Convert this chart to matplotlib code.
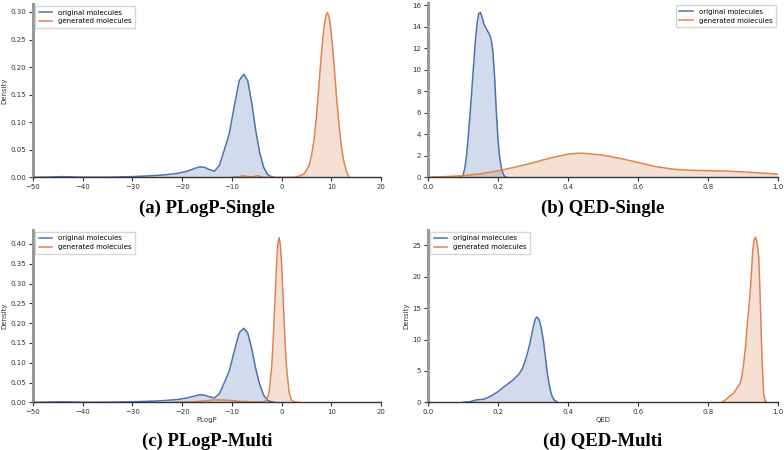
import matplotlib.pyplot as plt

# density curves (x, density)
# (a)/(c) original molecules, PLogP
plogp_orig_x = [-50, -47, -44, -41, -38, -34, -30, -27, -24, -21, -19, -17.5, -16.5, -15.5,
                -14.5, -13.5, -12.5, -11.5, -10.5, -9.5, -8.5, -7.6, -6.8, -6, -5.2, -4.4,
                -3.6, -2.8, -2, -1.5]
plogp_orig_y = [0, 0.0004, 0.0012, 0.0004, 0.0001, 0.0004, 0.0012, 0.0025, 0.004, 0.007, 0.011,
                0.016, 0.019, 0.018, 0.014, 0.011, 0.022, 0.05, 0.08, 0.13, 0.176, 0.187, 0.175,
                0.135, 0.085, 0.045, 0.018, 0.005, 0.001, 0]

# (a) generated, PLogP-Single
plogp_single_x = [-10, -8.7, -7.7, -6.7, -5.8, -4.8, -3.8, 2.5, 3.5, 4.5, 5.5, 6, 6.5, 7, 7.5, 8,
                  8.3, 8.6, 8.9, 9.2, 9.5, 9.8, 10.1, 10.4, 10.7, 11, 11.5, 12, 12.5, 13, 13.5]
plogp_single_y = [0, 0.001, 0.003, 0.001, 0.001, 0.003, 0, 0, 0.002, 0.006, 0.02, 0.038, 0.066,
                  0.109, 0.165, 0.222, 0.252, 0.277, 0.293, 0.299, 0.293, 0.277, 0.252, 0.222,
                  0.188, 0.152, 0.1, 0.058, 0.03, 0.012, 0.002]

# (c) generated, PLogP-Multi
plogp_multi_x = [-22, -18, -15, -13.8, -12, -10.5, -9, -8, -7, -6, -5, -4, -3.5, -3, -2.5, -2,
                 -1.75, -1.5, -1.25, -1, -0.75, -0.5, -0.25, 0, 0.25, 0.5, 0.75, 1, 1.5, 2, 2.5,
                 3, 3.5]
plogp_multi_y = [0, 0.001, 0.004, 0.006, 0.006, 0.005, 0.003, 0.002, 0.002, 0.001, 0.001, 0.001,
                 0.002, 0.006, 0.026, 0.088, 0.14, 0.208, 0.28, 0.35, 0.399, 0.416, 0.399, 0.35,
                 0.28, 0.208, 0.14, 0.088, 0.026, 0.0055, 0.0015, 0.0005, 0]

# (b) QED-Single
qed_single_orig_x = [0.09, 0.1, 0.105, 0.11, 0.115, 0.12, 0.125, 0.13, 0.135, 0.14, 0.145, 0.15,
                     0.155, 0.16, 0.165, 0.17, 0.175, 0.18, 0.185, 0.19, 0.195, 0.2, 0.205, 0.21,
                     0.215, 0.22, 0.225]
qed_single_orig_y = [0, 0.2, 0.8, 2.0, 3.8, 5.8, 8.0, 10.3, 12.5, 14.3, 15.2, 15.3, 14.8, 14.2,
                     13.9, 13.6, 13.3, 12.9, 11.8, 9.5, 6.2, 3.5, 1.8, 0.8, 0.3, 0.05, 0]
qed_single_gen_x = [0, 0.05, 0.1, 0.15, 0.2, 0.25, 0.3, 0.35, 0.4, 0.43, 0.45, 0.5, 0.55, 0.6,
                    0.65, 0.7, 0.75, 0.8, 0.85, 0.9, 0.95, 1.0]
qed_single_gen_y = [0.02, 0.06, 0.15, 0.32, 0.6, 0.95, 1.35, 1.8, 2.15, 2.24, 2.22, 2.05, 1.75,
                    1.38, 1.0, 0.75, 0.65, 0.62, 0.58, 0.5, 0.4, 0.3]

# (d) QED-Multi
qed_multi_orig_x = [0.1, 0.12, 0.14, 0.16, 0.18, 0.2, 0.22, 0.24, 0.26, 0.27, 0.28, 0.29, 0.30,
                    0.305, 0.31, 0.315, 0.32, 0.325, 0.33, 0.335, 0.34, 0.345, 0.35, 0.355, 0.36,
                    0.37]
qed_multi_orig_y = [0, 0.1, 0.4, 0.5, 1.0, 1.7, 2.6, 3.4, 4.5, 5.4, 7.0, 9.1, 11.8, 13.0, 13.6,
                    13.4, 12.7, 11.4, 9.7, 7.4, 5.0, 3.2, 1.8, 0.9, 0.4, 0]
qed_multi_gen_x = [0.84, 0.85, 0.86, 0.873, 0.883, 0.892, 0.897, 0.902, 0.907, 0.911, 0.916,
                   0.921, 0.925, 0.928, 0.932, 0.936, 0.94, 0.945, 0.949, 0.954, 0.959, 0.963,
                   0.967]
qed_multi_gen_y = [0, 0.4, 0.9, 1.44, 2.3, 3.0, 4.2, 6.2, 8.8, 11.5, 14.7, 17.9, 21.5, 24.3, 25.9,
                   26.3, 25.5, 23.2, 16.9, 7.3, 1.4, 0.3, 0]

blue = "#4c72b0"
orange = "#dd8452"

fig = plt.figure(figsize=(7.84, 4.5), dpi=100)

panels = [
    # axes rect, xlim, ylim top, yticks, fmt, original, generated, legend loc, xlabel, ylabel, caption, caption y
    ([33/784, 1-177.3/450, 348/784, 173.3/450], (-50, 20), 0.3145,
     [0, 0.05, 0.10, 0.15, 0.20, 0.25, 0.30], "{:.2f}",
     (plogp_orig_x, plogp_orig_y), (plogp_single_x, plogp_single_y),
     "upper left", "", "Density", "(a) PLogP-Single", 208),
    ([428/784, 1-177.3/450, 350/784, 174/450], (0, 1), 16.16,
     [0, 2, 4, 6, 8, 10, 12, 14, 16], "{:.0f}",
     (qed_single_orig_x, qed_single_orig_y), (qed_single_gen_x, qed_single_gen_y),
     "upper right", "", "", "(b) QED-Single", 208),
    ([33/784, 1-402.3/450, 348/784, 172.6/450], (-50, 20), 0.436,
     [0, 0.05, 0.10, 0.15, 0.20, 0.25, 0.30, 0.35, 0.40], "{:.2f}",
     (plogp_orig_x, plogp_orig_y), (plogp_multi_x, plogp_multi_y),
     "upper left", "PLogP", "Density", "(c) PLogP-Multi", 441),
    ([428/784, 1-402.3/450, 350/784, 172.6/450], (0, 1), 27.5,
     [0, 5, 10, 15, 20, 25], "{:.0f}",
     (qed_multi_orig_x, qed_multi_orig_y), (qed_multi_gen_x, qed_multi_gen_y),
     "upper left", "QED", "Density", "(d) QED-Multi", 441),
]

for rect, xlim, ytop, yticks, yfmt, orig, gen, loc, xlab, ylab, caption, cap_y in panels:
    ax = fig.add_axes(rect)
    ax.plot(orig[0], orig[1], color=blue, lw=1.1, label="original molecules")
    ax.fill_between(orig[0], orig[1], color=blue, alpha=0.25, lw=0)
    ax.plot(gen[0], gen[1], color=orange, lw=1.1, label="generated molecules")
    ax.fill_between(gen[0], gen[1], color=orange, alpha=0.25, lw=0)
    ax.set_xlim(*xlim)
    ax.set_ylim(0, ytop)
    ax.set_yticks(yticks)
    ax.set_yticklabels([yfmt.format(v) for v in yticks])
    if xlim[0] == -50:
        ax.set_xticks([-50, -40, -30, -20, -10, 0, 10, 20])
        ax.set_xticklabels(["\u221250", "\u221240", "\u221230", "\u221220", "\u221210", "0", "10", "20"])
    else:
        ax.set_xticks([0, 0.2, 0.4, 0.6, 0.8, 1.0])
        ax.set_xticklabels(["0.0", "0.2", "0.4", "0.6", "0.8", "1.0"])
    ax.tick_params(labelsize=5, length=3, width=0.8, colors="#333333", pad=2)
    for s in ["top", "right"]:
        ax.spines[s].set_visible(False)
    ax.spines["left"].set_color("#999999")
    ax.spines["left"].set_linewidth(2.2)
    ax.spines["bottom"].set_color("#333333")
    ax.spines["bottom"].set_linewidth(1.0)
    ax.set_xlabel(xlab, fontsize=5, color="#333333", labelpad=1)
    ax.set_ylabel(ylab, fontsize=5, color="#333333", labelpad=2)
    ax.legend(loc=loc, fontsize=5, frameon=True, edgecolor="#cccccc", fancybox=False,
              borderpad=0.5, handlelength=2.0, labelspacing=0.4, borderaxespad=0.3)
    cx = rect[0] + rect[2] / 2
    fig.text(cx, 1 - cap_y / 450, caption, ha="center", va="center",
             family="Liberation Serif", fontweight="bold", fontsize=13.5)

fig.savefig("out.png", dpi=100)
